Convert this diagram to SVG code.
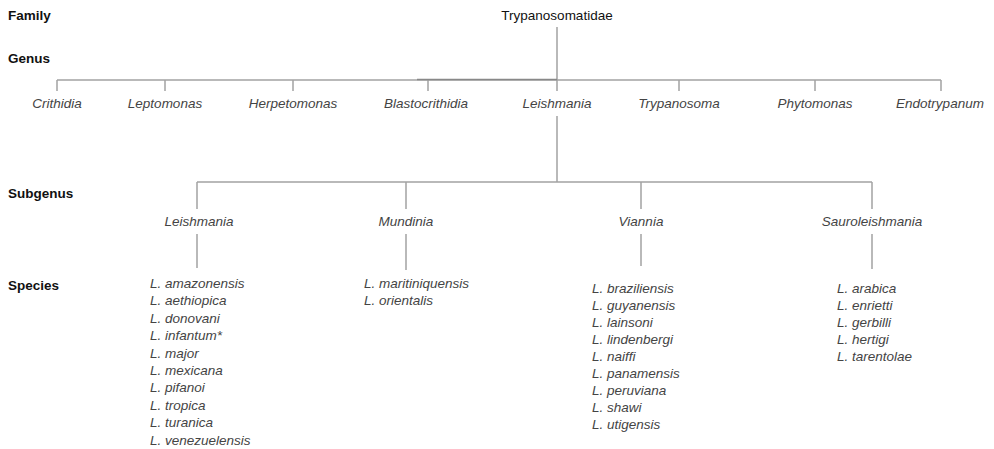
<svg xmlns="http://www.w3.org/2000/svg" width="994" height="449" viewBox="0 0 994 449">
<style>
.rank{font-family:"Liberation Sans",Arial,sans-serif;font-weight:bold;font-size:13.5px;fill:#111}
.fam{font-family:"Liberation Sans",Arial,sans-serif;font-size:13.5px;fill:#111;text-anchor:middle}
.it{font-family:"Liberation Sans",Arial,sans-serif;font-style:italic;font-size:13.5px;fill:#444}
.c{text-anchor:middle}
.ln{stroke:#a3a3a3;stroke-width:1.5;fill:none}
</style>
<rect width="994" height="449" fill="#fff"/>
<g id="ranks">
<text class="rank" x="8" y="20">Family</text>
<text class="rank" x="8" y="63">Genus</text>
<text class="rank" x="8" y="198">Subgenus</text>
<text class="rank" x="8" y="290">Species</text>
</g>
<g id="connectors">
<path class="ln" d="M557 27V80M57 80H941M57 80V91M165 80V91M293 80V91M428 80V91M557 80V91M679 80V91M815 80V91M941 80V91"/>
<path d="M417 79.5H557" stroke="#888" stroke-width="1.5"/>
<path class="ln" d="M557 116V182M197 182H872M197 182V209M406 182V209M641 182V209M872 182V209"/>
<path class="ln" d="M197 234V268M406 234V270M641 234V266M872 234V269"/>
</g>
<g id="family"><text class="fam" x="557" y="20">Trypanosomatidae</text></g>
<g id="genus-crithidia"><text class="it c" x="57" y="108">Crithidia</text></g>
<g id="genus-leptomonas"><text class="it c" x="165" y="108">Leptomonas</text></g>
<g id="genus-herpetomonas"><text class="it c" x="293" y="108">Herpetomonas</text></g>
<g id="genus-blastocrithidia"><text class="it c" x="426" y="108">Blastocrithidia</text></g>
<g id="genus-leishmania"><text class="it c" x="557" y="108">Leishmania</text></g>
<g id="genus-trypanosoma"><text class="it c" x="679" y="108">Trypanosoma</text></g>
<g id="genus-phytomonas"><text class="it c" x="815" y="108">Phytomonas</text></g>
<g id="genus-endotrypanum"><text class="it c" x="940" y="108">Endotrypanum</text></g>
<g id="subgenus-leishmania"><text class="it c" x="199" y="226">Leishmania</text></g>
<g id="subgenus-mundinia"><text class="it c" x="406" y="226">Mundinia</text></g>
<g id="subgenus-viannia"><text class="it c" x="641" y="226">Viannia</text></g>
<g id="subgenus-sauroleishmania"><text class="it c" x="872" y="226">Sauroleishmania</text></g>
<g id="species-leishmania">
<text class="it" x="150" y="288">L. amazonensis</text>
<text class="it" x="150" y="305.4">L. aethiopica</text>
<text class="it" x="150" y="322.8">L. donovani</text>
<text class="it" x="150" y="340.2">L. infantum*</text>
<text class="it" x="150" y="357.6">L. major</text>
<text class="it" x="150" y="375">L. mexicana</text>
<text class="it" x="150" y="392.4">L. pifanoi</text>
<text class="it" x="150" y="409.8">L. tropica</text>
<text class="it" x="150" y="427.2">L. turanica</text>
<text class="it" x="150" y="444.6">L. venezuelensis</text>
</g>
<g id="species-mundinia">
<text class="it" x="364" y="288">L. maritiniquensis</text>
<text class="it" x="364" y="305">L. orientalis</text>
</g>
<g id="species-viannia">
<text class="it" x="592" y="293">L. braziliensis</text>
<text class="it" x="592" y="310">L. guyanensis</text>
<text class="it" x="592" y="327">L. lainsoni</text>
<text class="it" x="592" y="344">L. lindenbergi</text>
<text class="it" x="592" y="361">L. naiffi</text>
<text class="it" x="592" y="378">L. panamensis</text>
<text class="it" x="592" y="395">L. peruviana</text>
<text class="it" x="592" y="412">L. shawi</text>
<text class="it" x="592" y="429">L. utigensis</text>
</g>
<g id="species-sauroleishmania">
<text class="it" x="837" y="293">L. arabica</text>
<text class="it" x="837" y="310">L. enrietti</text>
<text class="it" x="837" y="327">L. gerbilli</text>
<text class="it" x="837" y="344">L. hertigi</text>
<text class="it" x="837" y="361">L. tarentolae</text>
</g>
</svg>
